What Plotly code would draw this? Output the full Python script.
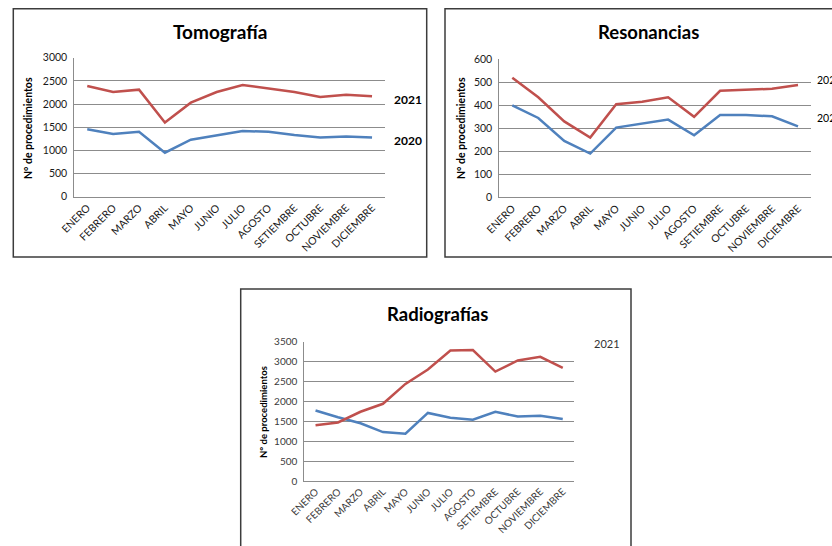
import plotly.graph_objects as go

W, H = 832, 546
OFF = 0

months = ["ENERO", "FEBRERO", "MARZO", "ABRIL", "MAYO", "JUNIO", "JULIO",
          "AGOSTO", "SETIEMBRE", "OCTUBRE", "NOVIEMBRE", "DICIEMBRE"]

tomo_2021 = [2390, 2260, 2310, 1600, 2030, 2260, 2410, 2330, 2260, 2150, 2200, 2170]
tomo_2020 = [1455, 1355, 1400, 950, 1230, 1330, 1420, 1400, 1330, 1280, 1300, 1280]

reso_2021 = [520, 435, 330, 260, 405, 415, 435, 350, 463, 467, 472, 488]
reso_2020 = [400, 345, 245, 190, 303, 320, 338, 270, 358, 358, 352, 308]

radio_2021 = [1400, 1470, 1740, 1940, 2440, 2800, 3280, 3290, 2750, 3030, 3120, 2840]
radio_2020 = [1770, 1600, 1450, 1230, 1190, 1710, 1590, 1540, 1740, 1620, 1640, 1560]

RED = "#C0504D"
BLUE = "#4F81BD"
GRID = "#8C8C8C"
FONT = "Lato"


def px_x(x):
    return (x - OFF) / W


def px_y(y):
    return 1 - (y - OFF) / H


fig = go.Figure()

panels = [
    ("", tomo_2021, tomo_2020, 3000, 500, (74.3, 385, 57.7, 196.7)),
    ("2", reso_2021, reso_2020, 600, 100, (499.3, 811, 59.3, 197.3)),
    ("3", radio_2021, radio_2020, 3500, 500, (304.3, 574, 341.7, 481)),
]

layout = {}
for i, (sfx, red, blue, ymax, dt, (l, r, t, b)) in enumerate(panels):
    xa = "x" + sfx
    ya = "y" + sfx
    fig.add_trace(go.Scatter(x=months, y=blue, mode="lines",
                             line=dict(color=BLUE, width=2.5),
                             xaxis=xa, yaxis=ya, showlegend=False))
    fig.add_trace(go.Scatter(x=months, y=red, mode="lines",
                             line=dict(color=RED, width=2.5),
                             xaxis=xa, yaxis=ya, showlegend=False))
    small = (i == 2)
    tcol = "#3a3a3a" if small else "#1a1a1a"
    layout["xaxis" + sfx] = dict(
        domain=[px_x(l), px_x(r)], anchor=ya, type="category",
        range=[-0.5, 11.5], tickangle=-45, showgrid=False,
        showline=True, linecolor=GRID, linewidth=1, ticks="",
        tickfont=dict(family=FONT, size=10.5 if not small else 10, color=tcol),
        automargin=False, fixedrange=True,
    )
    layout["yaxis" + sfx] = dict(
        domain=[px_y(b), px_y(t)], anchor=xa, range=[0, ymax], dtick=dt,
        showgrid=True, gridcolor=GRID, gridwidth=1, zeroline=False,
        showline=True, linecolor=GRID, linewidth=1, ticks="",
        tickfont=dict(family=FONT, size=10.5 if not small else 10, color=tcol),
        ticklabelstandoff=4, automargin=False,
        fixedrange=True,
    )

fig.update_layout(**layout)

shapes = []
for (x0, x1, y0, y1) in [(13.3, 426.7, 8.7, 257), (445, 850, 8.7, 257), (240.7, 631, 289, 570)]:
    shapes.append(dict(type="rect", xref="paper", yref="paper",
                       x0=px_x(x0), x1=px_x(x1), y0=px_y(y1), y1=px_y(y0),
                       line=dict(color="#3c3c3c", width=1.5), layer="below"))

annotations = []
titles = [("Tomografía", 220, 31, 19), ("Resonancias", 648, 32, 18.5), ("Radiografías", 437, 314, 18.5)]
for txt, x, y, s in titles:
    annotations.append(dict(text="<b>%s</b>" % txt, x=px_x(x), y=px_y(y), xref="paper", yref="paper",
                            showarrow=False, xanchor="center", yanchor="middle",
                            font=dict(family=FONT, size=s, color="#000000")))

ytitles = [(28, 128, 10.5), (461, 128, 10.5), (263, 412, 9.5)]
for x, y, s in ytitles:
    annotations.append(dict(text="<b>N° de procedimientos</b>", x=px_x(x), y=px_y(y),
                            xref="paper", yref="paper", showarrow=False, textangle=-90,
                            xanchor="center", yanchor="middle",
                            font=dict(family=FONT, size=s, color="#000000")))

series_labels = [
    ("<b>2021</b>", 392, 99, 12, "#000000"),
    ("<b>2020</b>", 392, 141, 12, "#000000"),
    ("2021", 815, 80, 10.5, "#000000"),
    ("2020", 815, 118, 10.5, "#000000"),
    ("2021", 592, 343, 11, "#333333"),
]
for txt, x, y, s, c in series_labels:
    annotations.append(dict(text=txt, x=px_x(x), y=px_y(y), xref="paper", yref="paper",
                            showarrow=False, xanchor="left", yanchor="middle",
                            font=dict(family=FONT, size=s, color=c)))

fig.update_layout(
    width=W, height=H, margin=dict(l=0, r=0, t=0, b=0, autoexpand=False),
    paper_bgcolor="white", plot_bgcolor="white",
    shapes=shapes, annotations=annotations,
)

fig.write_html(
    "out.html",
    config={"displayModeBar": False},
    post_script="document.body.style.margin='0';document.documentElement.style.overflow='hidden';document.body.style.overflow='hidden';",
)
